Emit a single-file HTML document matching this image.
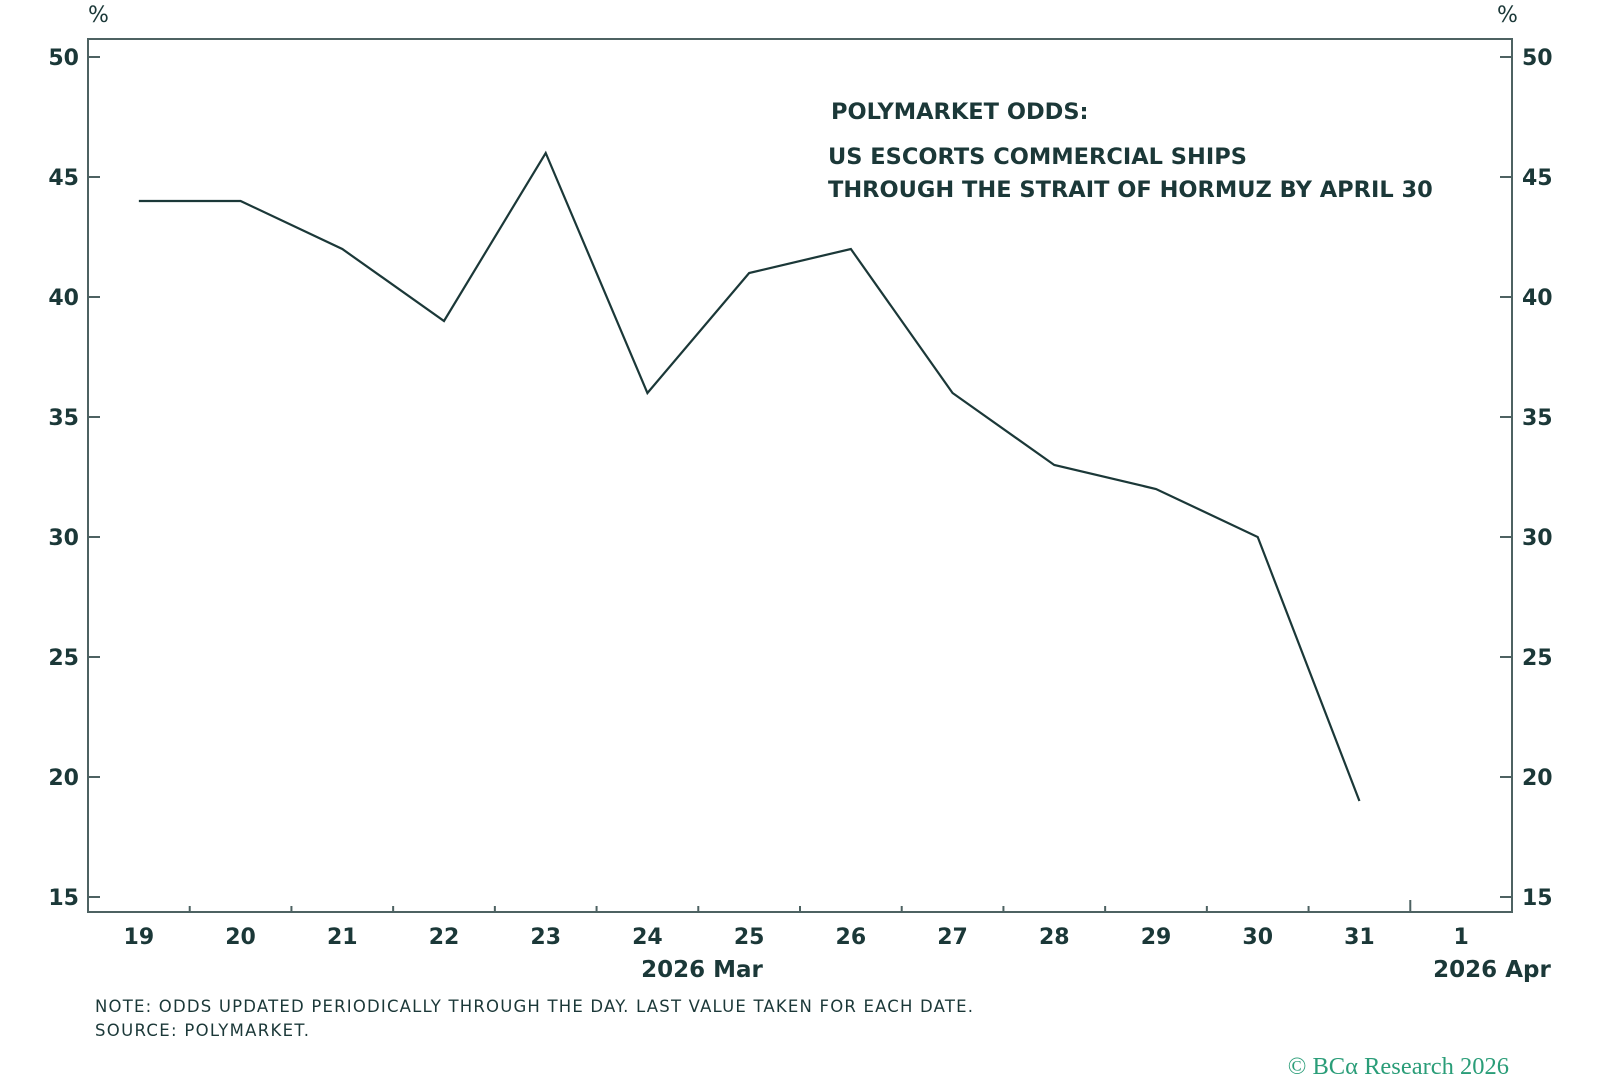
<!DOCTYPE html>
<html><head><meta charset="utf-8"><style>
body{margin:0;background:#fff;width:1600px;height:1080px;overflow:hidden}
svg text{font-family:"DejaVu Sans","Liberation Sans",sans-serif;fill:#1b3838;font-weight:bold}
</style></head><body>
<svg id="c" width="1600" height="1080">
<g id="g"></g>
<text x="831" y="119" font-size="22.5">POLYMARKET ODDS:</text>
<text x="828" y="164" font-size="22.5">US ESCORTS COMMERCIAL SHIPS</text>
<text x="828" y="197" font-size="22.5">THROUGH THE STRAIT OF HORMUZ BY APRIL 30</text>
<text x="88" y="22" font-size="22" style="font-weight:normal">%</text>
<text x="1497" y="22" font-size="22" style="font-weight:normal">%</text>
<text x="702" y="977" font-size="23" text-anchor="middle">2026 Mar</text>
<text x="1492" y="977" font-size="23" text-anchor="middle">2026 Apr</text>
<text x="95" y="1012" font-size="16.5" style="font-weight:normal" textLength="878">NOTE: ODDS UPDATED PERIODICALLY THROUGH THE DAY. LAST VALUE TAKEN FOR EACH DATE.</text>
<text x="95" y="1036" font-size="16.5" style="font-weight:normal" textLength="214">SOURCE: POLYMARKET.</text>
<text x="1509" y="1074" font-size="24.5" text-anchor="end" style="font-family:'Liberation Serif',serif;fill:#2a9d78;font-weight:normal">© BCα Research 2026</text>
</svg>
<script>
const categories=["19","20","21","22","23","24","25","26","27","28","29","30","31","1"];
const values=[44,44,42,39,46,36,41,42,36,33,32,30,19];
const yTicks=[15,20,25,30,35,40,45,50];
const L=88,R=1512,T=39,B=912,n=categories.length,bw=(R-L)/n;
const x=i=>L+bw*(i+0.5);
const y=v=>57+(50-v)*24;
const NS="http://www.w3.org/2000/svg",g=document.getElementById('g');
function el(t,a){const e=document.createElementNS(NS,t);for(const k in a)e.setAttribute(k,a[k]);g.appendChild(e);return e;}
const f=el('rect',{x:L,y:T,width:R-L,height:B-T,fill:'none',stroke:'#4d6262','stroke-width':2});


yTicks.forEach(v=>{
 const a=el('line',{x1:L,x2:L+12,y1:y(v),y2:y(v),stroke:'#4d6262','stroke-width':2});
 
 
 const b=el('line',{x1:R-12,x2:R,y1:y(v),y2:y(v),stroke:'#4d6262','stroke-width':2});
 
 
 const t1=el('text',{x:L-9,y:y(v)+8,'font-size':22,'text-anchor':'end'});t1.textContent=v;
 
 
 const t2=el('text',{x:R+10,y:y(v)+8,'font-size':22});t2.textContent=v;
 
 
});
for(let k=1;k<n;k++){
 const xx=L+bw*k,big=(k==n-1);
 const t=el('line',{x1:xx,x2:xx,y1:B,y2:B-(big?12:6),stroke:'#4d6262','stroke-width':2});
 
 
}
categories.forEach((c,i)=>{
 const t=el('text',{x:x(i),y:944,'font-size':22,'text-anchor':'middle'});t.textContent=c;
 
 
});
const p=el('polyline',{points:values.map((v,i)=>x(i)+','+y(v)).join(' '),fill:'none',stroke:'#1b3838','stroke-width':2.2});


</script>
</body></html>
